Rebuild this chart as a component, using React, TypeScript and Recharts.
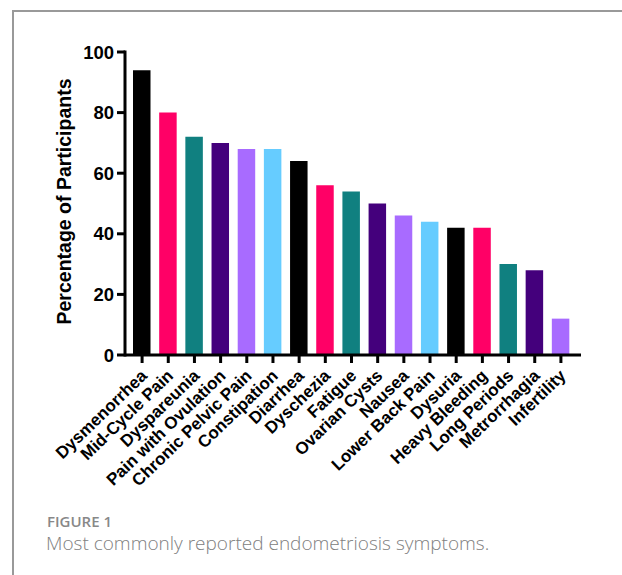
import { Bar, BarChart, Cell, XAxis, YAxis } from "recharts";

const symptoms = [
  "Dysmenorrhea",
  "Mid-Cycle Pain",
  "Dyspareunia",
  "Pain with Ovulation",
  "Chronic Pelvic Pain",
  "Constipation",
  "Diarrhea",
  "Dyschezia",
  "Fatigue",
  "Ovarian Cysts",
  "Nausea",
  "Lower Back Pain",
  "Dysuria",
  "Heavy Bleeding",
  "Long Periods",
  "Metrorrhagia",
  "Infertility",
];

const percentages = [94, 80, 72, 70, 68, 68, 64, 56, 54, 50, 46, 44, 42, 42, 30, 28, 12];

const palette = ["#000000", "#ff0066", "#108080", "#44007c", "#a86bff", "#66ccff"];

const yTicks = [0, 20, 40, 60, 80, 100];

const arial = "'Liberation Sans', Arial, sans-serif";

const data = symptoms.map((name, i) => ({ name, value: percentages[i] }));

function XTick(props: any) {
  const { x, y, payload } = props;
  return (
    <g transform={`translate(${x + 6},${y + 12})`}>
      <text
        textAnchor="end"
        transform="rotate(-44)"
        fontSize={17}
        fontWeight="bold"
        fontFamily={arial}
        fill="#000"
      >
        {payload.value}
      </text>
    </g>
  );
}

export default function App() {
  return (
    <div
      style={{
        position: "absolute",
        left: 0,
        top: 0,
        width: 622,
        height: 575,
        background: "#fff",
        overflow: "hidden",
      }}
    >
      <div
        style={{
          position: "absolute",
          left: 12,
          top: 10,
          width: 620,
          height: 600,
          borderTop: "2px solid #999",
          borderLeft: "2px solid #999",
        }}
      />
      <div style={{ position: "absolute", left: 0, top: 0 }}>
        <BarChart
          width={622}
          height={500}
          data={data}
          margin={{ top: 52, right: 41, bottom: 15, left: 45 }}
        >
          <XAxis
            dataKey="name"
            interval={0}
            height={130}
            tick={<XTick />}
            tickSize={8}
            padding={{ left: 4, right: 7 }}
            axisLine={{ stroke: "#000", strokeWidth: 3 }}
            tickLine={{ stroke: "#000", strokeWidth: 3 }}
          />
          <YAxis
            width={80}
            domain={[0, 100]}
            ticks={yTicks}
            tickSize={8}
            tickMargin={3}
            axisLine={{ stroke: "#000", strokeWidth: 3, strokeLinecap: "square" }}
            tickLine={{ stroke: "#000", strokeWidth: 3 }}
            tick={{ fontSize: 18.5, fontWeight: "bold", fill: "#000", fontFamily: arial }}
            label={{
              value: "Percentage of Participants",
              angle: -90,
              position: "center",
              dx: -21,
              dy: -2,
              style: { fontSize: 19.5, fontWeight: "bold", fill: "#000", fontFamily: arial },
            }}
          />
          <Bar dataKey="value" barSize={17.5} isAnimationActive={false}>
            {data.map((d, i) => (
              <Cell key={d.name} fill={palette[i % palette.length]} />
            ))}
          </Bar>
        </BarChart>
      </div>
      <div
        style={{
          position: "absolute",
          left: 47,
          top: 511,
          fontFamily: "'Open Sans', sans-serif",
          fontWeight: 600,
          fontSize: 15,
          color: "#888",
        }}
      >
        FIGURE 1
      </div>
      <div
        style={{
          position: "absolute",
          left: 46,
          top: 530,
          fontFamily: "'Open Sans', sans-serif",
          fontWeight: 300,
          fontSize: 19,
          color: "#808080",
        }}
      >
        Most commonly reported endometriosis symptoms.
      </div>
    </div>
  );
}
